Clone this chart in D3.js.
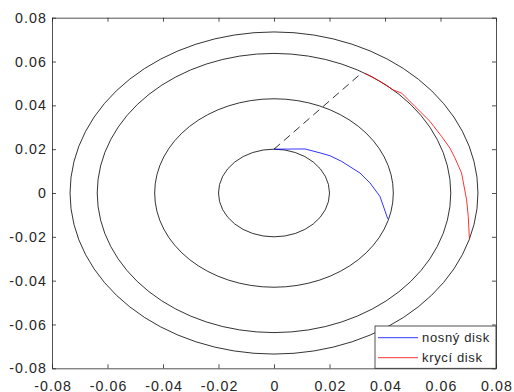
<!DOCTYPE html>
<html>
<head>
<meta charset="utf-8">
<script src="https://cdn.jsdelivr.net/npm/d3@7"></script>
<style>
  body { margin: 0; background: #fff; }
  svg { display: block; }
  text { font-family: "Liberation Sans", Arial, sans-serif; }
</style>
</head>
<body>
<svg width="514" height="392"></svg>
<script>
// circle radii (m)
const radii = [0.02, 0.043, 0.0637, 0.0735];

// dashed line from the inner circle
const dashX = [0, 0.0316];
const dashY = [0.02, 0.0548];

// nosny disk (blue)
const blueX = [0, 0.0112, 0.0166, 0.0202, 0.0244, 0.031, 0.0346, 0.0382, 0.041];
const blueY = [0.02, 0.0201, 0.0183, 0.017, 0.0144, 0.0091, 0.0046, -0.0016, -0.0118];

// kryci disk (red)
const redX = [0.0328, 0.038, 0.043, 0.046, 0.0508, 0.0562, 0.0604, 0.0634, 0.0652, 0.0676, 0.0694, 0.07, 0.0704];
const redY = [0.0546, 0.0511, 0.047, 0.0456, 0.0395, 0.0327, 0.0258, 0.0205, 0.016, 0.0091, -0.0031, -0.0107, -0.0207];

const ticks = [-0.08, -0.06, -0.04, -0.02, 0, 0.02, 0.04, 0.06, 0.08];
const tickLabels = ["-0.08", "-0.06", "-0.04", "-0.02", "0", "0.02", "0.04", "0.06", "0.08"];

const legendNames = ["nosný disk", "krycí disk"];
const legendColors = ["#0000ff", "#ff0000"];

const mLeft = 52, mRight = 496, mTop = 17.7, mBottom = 368.3;
const axisColor = "#262626";

const svg = d3.select("svg");

const x = d3.scaleLinear().domain([-0.08, 0.08]).range([mLeft, mRight]);
const y = d3.scaleLinear().domain([-0.08, 0.08]).range([mBottom, mTop]);

const fmt = (d) => tickLabels[ticks.indexOf(d)];

// circles (ellipses because axis is not equal)
svg.append("g")
  .selectAll("ellipse")
  .data(radii)
  .enter()
  .append("ellipse")
  .attr("cx", x(0))
  .attr("cy", y(0))
  .attr("rx", (r) => x(r) - x(0))
  .attr("ry", (r) => y(0) - y(r))
  .attr("fill", "none")
  .attr("stroke", "#000")
  .attr("stroke-width", 0.8);

const line = d3.line().x((d) => x(d[0])).y((d) => y(d[1]));

svg.append("path")
  .datum(d3.zip(dashX, dashY))
  .attr("fill", "none")
  .attr("stroke", "#000")
  .attr("stroke-width", 0.8)
  .attr("stroke-dasharray", "8,5")
  .attr("d", line);

svg.append("path")
  .datum(d3.zip(blueX, blueY))
  .attr("fill", "none")
  .attr("stroke", legendColors[0])
  .attr("stroke-width", 0.8)
  .attr("d", line);

svg.append("path")
  .datum(d3.zip(redX, redY))
  .attr("fill", "none")
  .attr("stroke", legendColors[1])
  .attr("stroke-width", 0.8)
  .attr("d", line);

// axes, ticks pointing inward
const gx = svg.append("g")
  .attr("transform", `translate(0,${mBottom})`)
  .call(d3.axisBottom(x).tickValues(ticks).tickFormat(fmt).tickSizeInner(-4).tickSizeOuter(0).tickPadding(12.5));
const gy = svg.append("g")
  .attr("transform", `translate(${mLeft},0)`)
  .call(d3.axisLeft(y).tickValues(ticks).tickFormat(fmt).tickSizeInner(-4).tickSizeOuter(0).tickPadding(5));
const gt = svg.append("g")
  .attr("transform", `translate(0,${mTop})`)
  .call(d3.axisTop(x).tickValues(ticks).tickFormat("").tickSizeInner(-4).tickSizeOuter(0));
const gr = svg.append("g")
  .attr("transform", `translate(${mRight},0)`)
  .call(d3.axisRight(y).tickValues(ticks).tickFormat("").tickSizeInner(-4).tickSizeOuter(0));

[gx, gy, gt, gr].forEach((g) => {
  g.selectAll("path, line").attr("stroke", axisColor).attr("stroke-width", 0.8);
  g.selectAll("text")
    .attr("fill", axisColor)
    .style("font-size", "14.2px")
    .style("letter-spacing", "1.1px");
});
// centre the x labels again after letter spacing
gx.selectAll("text").attr("dx", "0.55px");

// legend in the lower right corner
const lg = svg.append("g");
lg.append("rect")
  .attr("x", 375)
  .attr("y", 326)
  .attr("width", mRight - 375)
  .attr("height", mBottom - 326)
  .attr("fill", "#fff")
  .attr("stroke", axisColor)
  .attr("stroke-width", 0.8);

legendNames.forEach((name, i) => {
  const yy = 337.7 + i * 20;
  lg.append("line")
    .attr("x1", 378).attr("x2", 418)
    .attr("y1", yy).attr("y2", yy)
    .attr("stroke", legendColors[i])
    .attr("stroke-width", 0.8);
  lg.append("text")
    .attr("x", 422)
    .attr("y", yy)
    .attr("dy", "0.35em")
    .attr("fill", axisColor)
    .style("font-size", "13px")
    .style("letter-spacing", "0.65px")
    .text(name);
});
</script>
</body>
</html>
